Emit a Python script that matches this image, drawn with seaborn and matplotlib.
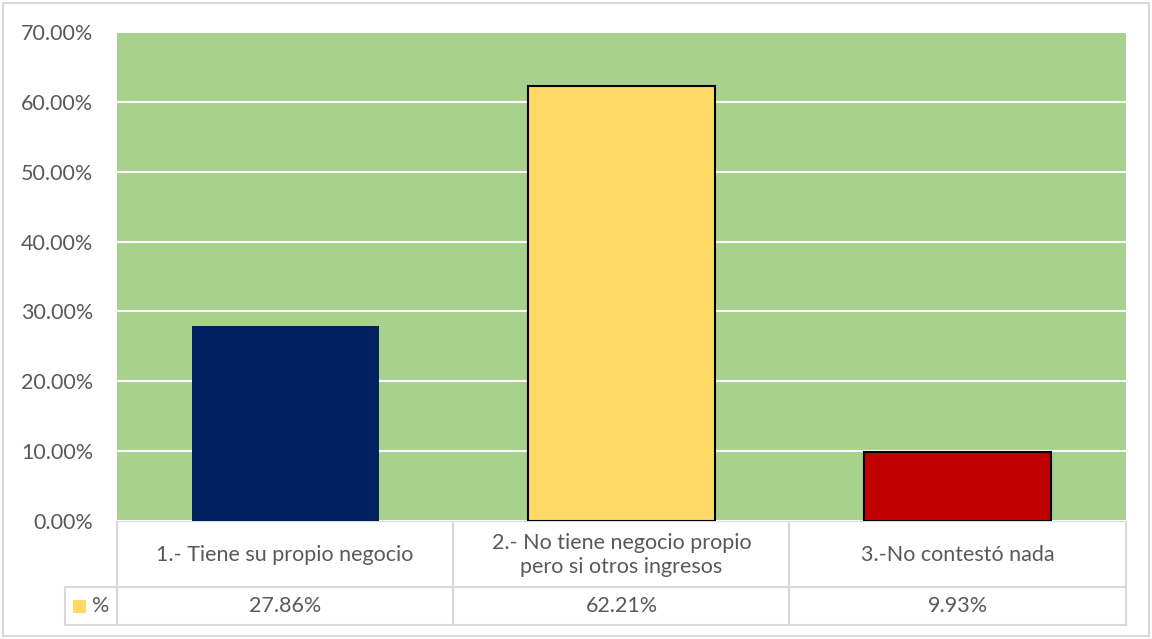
import matplotlib
matplotlib.use("Agg")
import matplotlib.pyplot as plt
import matplotlib.transforms as mtransforms
from matplotlib.patches import Rectangle
import seaborn as sns
import pandas as pd

categories = ["1.- Tiene su propio negocio",
              "2.- No tiene negocio propio\npero si otros ingresos",
              "3.-No contestó nada"]
values = [27.86, 62.21, 9.93]
value_labels = ["27.86%", "62.21%", "9.93%"]
bar_colors = ["#002060", "#FFD966", "#C00000"]
edge_colors = ["none", "black", "black"]
yticks = [0, 10, 20, 30, 40, 50, 60, 70]
series_name = "%"

sns.set_theme(style="white")
plt.rcParams["font.family"] = ["Lato", "DejaVu Sans"]

W, H = 1152, 639
fs = 15.5
txt_c = "#595959"
fig = plt.figure(figsize=(W / 100, H / 100), dpi=100)
fig.patch.set_facecolor("white")

# pixel-space overlay for the frame and the data table
over = fig.add_axes([0, 0, 1, 1], zorder=0)
over.set_xlim(0, W)
over.set_ylim(H, 0)
over.axis("off")

left, right, top, base = 117, 1126, 32, 521
ax = fig.add_axes([left / W, (H - base) / H, (right - left) / W, (base - top) / H], zorder=1)

df = pd.DataFrame({"cat": categories, "val": values})
sns.barplot(data=df, x="cat", y="val", hue="cat", palette=bar_colors,
            order=categories, hue_order=categories, width=0.556,
            legend=False, ax=ax, saturation=1)
for patch, ec in zip(ax.patches, edge_colors):
    if ec != "none":
        patch.set_edgecolor(ec)
        patch.set_linewidth(1.5)
    else:
        patch.set_linewidth(0)
    patch.set_zorder(3)

ax.set_facecolor("#A9D18E")
ax.set_ylim(0, 70)
ax.set_xlim(-0.5, 2.5)
ax.set_yticks(yticks)
ax.set_yticklabels([f"{t:.2f}%" for t in yticks], fontsize=fs, color=txt_c)
ax.yaxis.grid(True, color="white", linewidth=1.5, zorder=0)
ax.set_axisbelow(True)
ax.set_xticks([])
ax.set_xlabel("")
ax.set_ylabel("")
ax.tick_params(axis="y", length=0, pad=17)
for s in ax.spines.values():
    s.set_visible(False)

# outer chart frame
over.add_patch(Rectangle((2.5, 2.5), W - 6, H - 6, fill=False,
                         edgecolor="#D9D9D9", linewidth=1.5))

# data table under the plot
row1_bot, row2_bot, key_left = 587, 625, 65
grid_c = "#D9D9D9"
lw = 1.5
xs = [left, 453, 789, right]
over.plot([left, right], [base, base], color=grid_c, lw=lw)
over.plot([key_left, right], [row1_bot, row1_bot], color=grid_c, lw=lw)
over.plot([key_left, right], [row2_bot, row2_bot], color=grid_c, lw=lw)
for x in xs:
    over.plot([x, x], [base, row2_bot], color=grid_c, lw=lw)
over.plot([key_left, key_left], [row1_bot, row2_bot], color=grid_c, lw=lw)

mixed = mtransforms.blended_transform_factory(ax.transData, over.transData)
for i, (cat, lab) in enumerate(zip(categories, value_labels)):
    over.text(i, (base + row1_bot) / 2 + 1, cat, transform=mixed, ha="center",
              va="center", fontsize=fs, color=txt_c, linespacing=1.2)
    over.text(i, (row1_bot + row2_bot) / 2, lab, transform=mixed, ha="center",
              va="center", fontsize=fs, color=txt_c)

# legend key in the table
over.add_patch(Rectangle((73, 600), 13, 13, facecolor=bar_colors[1], edgecolor="none"))
over.text(92, (row1_bot + row2_bot) / 2, series_name, ha="left", va="center",
          fontsize=fs, color=txt_c)

fig.savefig("out.png", dpi=100, facecolor="white")
